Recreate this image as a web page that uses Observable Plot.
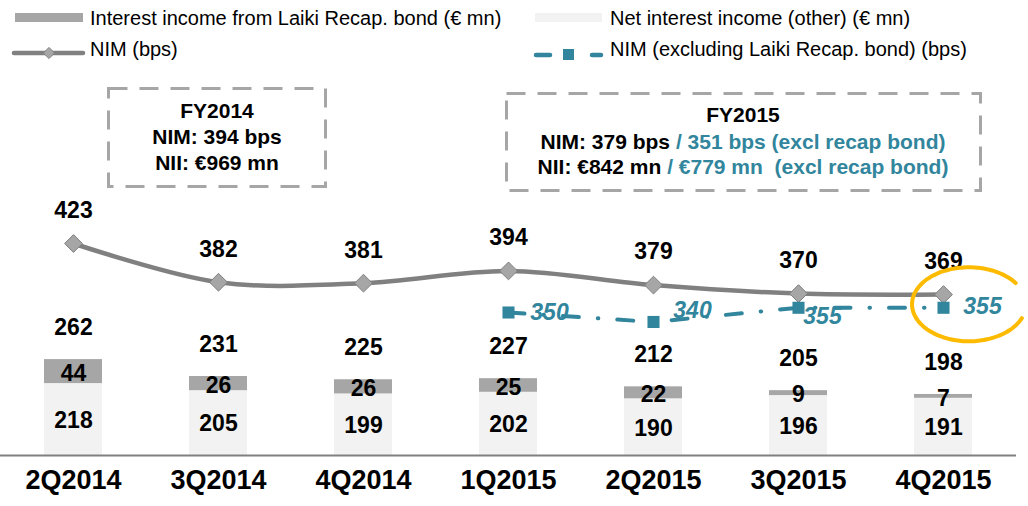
<!DOCTYPE html>
<html>
<head>
<meta charset="utf-8">
<script src="https://cdn.jsdelivr.net/npm/d3@7"></script>
<script src="https://cdn.jsdelivr.net/npm/@observablehq/plot@0.6"></script>
<style>
  body { margin: 0; background: #fff; font-family: "Liberation Sans", Arial, sans-serif; }
  #wrap { position: relative; width: 1028px; height: 506px; overflow: hidden; }
  #wrap > svg { position: absolute; left: 0; top: 0; }
</style>
</head>
<body>
<div id="wrap"></div>
<script>
// ---- data ----
const quarters = ["2Q2014", "3Q2014", "4Q2014", "1Q2015", "2Q2015", "3Q2015", "4Q2015"];
const recapIncome = [44, 26, 26, 25, 22, 9, 7];          // € mn
const otherNII = [218, 205, 199, 202, 190, 196, 191];    // € mn
const totalNII = [262, 231, 225, 227, 212, 205, 198];    // € mn
const nimBps = [423, 382, 381, 394, 379, 370, 369];      // bps
const exclQuarters = ["1Q2015", "2Q2015", "3Q2015", "4Q2015"];
const nimExclBps = [350, 340, 355, 355];                 // bps

const legendLabels = [
  "Interest income from Laiki Recap. bond (€ mn)",
  "Net interest income (other) (€ mn)",
  "NIM (bps)",
  "NIM (excluding Laiki Recap. bond) (bps)"
];
const fy2014Lines = ["FY2014", "NIM: 394 bps", "NII: €969 mn"];
const fy2015Title = "FY2015";
const fy2015Nim = ["NIM: 379 bps ", "/ 351 bps (excl recap bond)"];
const fy2015Nii = ["NII: €842 mn ", "/ €779 mn  (excl recap bond)"];

// ---- styles ----
const FONT = '"Liberation Sans", Arial, sans-serif';
const TEAL = "#31859c";
const DARK_GRAY = "#808080";
const MID_GRAY = "#a6a6a6";
const LIGHT_GRAY = "#f2f2f2";
const barFloor = 86;           // bar value scale starts here (as in the original)
const exclLabelOffsets = {"1Q2015": [41, 0], "2Q2015": [39, -11], "3Q2015": [24, 9], "4Q2015": [39, -1]};

const rows = quarters.map((q, i) => ({q, recap: recapIncome[i], other: otherNII[i], total: totalNII[i], nim: nimBps[i]}));
const exclRows = exclQuarters.map((q, i) => ({q, v: nimExclBps[i]}));

const W = 1028, H = 506;
const common = {
  width: W, height: H, marginTop: 0, marginBottom: 51, marginLeft: 0, marginRight: 12,
  x: {domain: quarters, paddingInner: 0.6, paddingOuter: 0.28, axis: null},
  style: {fontFamily: FONT, background: "transparent", overflow: "visible"}
};
const wrap = document.getElementById("wrap");

// ---- bars ----
const barPlot = Plot.plot({
  ...common,
  y: {domain: [barFloor, 921], axis: null},
  marks: [
    Plot.barY(rows, {x: "q", y1: barFloor, y2: "other", fill: LIGHT_GRAY}),
    Plot.barY(rows, {x: "q", y1: "other", y2: "total", fill: MID_GRAY}),
    Plot.ruleY([barFloor], {stroke: DARK_GRAY, strokeWidth: 2}),
    Plot.text(rows, {x: "q", y: "total", text: d => d.total, dy: -32, fontSize: 23, fontWeight: "bold", fill: "#000"}),
    Plot.text(rows, {x: "q", y: d => (d.other + d.total) / 2, text: d => d.recap, dy: 2, fontSize: 23, fontWeight: "bold", fill: "#000"}),
    Plot.text(rows, {x: "q", y: d => (barFloor + d.other) / 2, text: d => d.other, dy: 1, fontSize: 23, fontWeight: "bold", fill: "#000"}),
    Plot.text(quarters, {x: d => d, text: d => d, frameAnchor: "bottom", dy: 33, fontSize: 27, fontWeight: "bold", fill: "#000"})
  ]
});
wrap.appendChild(barPlot);

// ---- lines ----
const linePlot = Plot.plot({
  ...common,
  y: {domain: [198.7, 680.1], axis: null},
  marks: [
    Plot.line(rows, {x: "q", y: "nim", stroke: DARK_GRAY, strokeWidth: 4.5, curve: "catmull-rom"}),
    Plot.dot(rows, {x: "q", y: "nim", symbol: "diamond2", r: 8, fill: MID_GRAY, stroke: DARK_GRAY, strokeWidth: 1}),
    Plot.text(rows, {x: "q", y: "nim", text: d => d.nim, dy: -33, fontSize: 23, fontWeight: "bold", fill: "#000"}),
    Plot.line(exclRows, {x: "q", y: "v", stroke: TEAL, strokeWidth: 4, strokeDasharray: "16,19,0.5,19", strokeLinecap: "round"}),
    Plot.dot(exclRows, {x: "q", y: "v", symbol: "square", r: 6.8, fill: TEAL}),
    ...exclRows.map(r => Plot.text([r], {x: "q", y: "v", text: d => d.v, dx: exclLabelOffsets[r.q][0], dy: exclLabelOffsets[r.q][1], fontSize: 23, fontStyle: "italic", fontWeight: "bold", fill: TEAL}))
  ]
});
wrap.appendChild(linePlot);

// highlight ellipse around last excl point, placed with the plot's scales
{
  const sx = linePlot.scale("x"), sy = linePlot.scale("y");
  const last = exclRows[exclRows.length - 1];
  const cx = sx.apply(last.q) + sx.bandwidth / 2 + 26;
  const cy = sy.apply(last.v) - 3;
  const rx = 57, ry = 37;
  const a0 = -35 * Math.PI / 180, a1 = 22 * Math.PI / 180;
  const pts = d3.range(0, 1.0001, 1 / 80).map(t => {
    const a = a0 - t * (2 * Math.PI - (a1 - a0));
    return [cx + rx * Math.cos(a), cy + ry * Math.sin(a)];
  });
  d3.select(linePlot).append("path")
    .attr("d", d3.line().curve(d3.curveBasis)(pts))
    .attr("fill", "none").attr("stroke", "#fdbb00").attr("stroke-width", 4).attr("stroke-linecap", "round");
}

// ---- legend + annotation boxes ----
const ann = d3.select(wrap).append("svg").attr("width", W).attr("height", H)
  .style("font-family", FONT);

// legend row 1
ann.append("rect").attr("x", 15).attr("y", 13).attr("width", 68).attr("height", 9).attr("fill", MID_GRAY);
ann.append("text").attr("x", 90).attr("y", 25).attr("font-size", 20).text(legendLabels[0]);
ann.append("rect").attr("x", 535).attr("y", 13).attr("width", 67).attr("height", 9).attr("fill", LIGHT_GRAY);
ann.append("text").attr("x", 610).attr("y", 25).attr("font-size", 20).text(legendLabels[1]);
// legend row 2
ann.append("line").attr("x1", 14).attr("x2", 83).attr("y1", 53).attr("y2", 53).attr("stroke", DARK_GRAY).attr("stroke-width", 4.5).attr("stroke-linecap", "round");
ann.append("path").attr("d", d3.symbol(d3.symbolDiamond2, 80)()).attr("transform", "translate(49,53)").attr("fill", MID_GRAY).attr("stroke", DARK_GRAY).attr("stroke-width", 1);
ann.append("text").attr("x", 90).attr("y", 56).attr("font-size", 20).text(legendLabels[2]);
ann.append("line").attr("x1", 536).attr("x2", 550).attr("y1", 55).attr("y2", 55).attr("stroke", TEAL).attr("stroke-width", 4.5).attr("stroke-linecap", "round");
ann.append("rect").attr("x", 563).attr("y", 49).attr("width", 11).attr("height", 11).attr("fill", TEAL);
ann.append("line").attr("x1", 592).attr("x2", 601).attr("y1", 55).attr("y2", 55).attr("stroke", TEAL).attr("stroke-width", 4.5).attr("stroke-linecap", "round");
ann.append("text").attr("x", 610).attr("y", 56).attr("font-size", 20).text(legendLabels[3]);

// FY2014 box
ann.append("rect").attr("x", 108.5).attr("y", 88.5).attr("width", 217).attr("height", 98)
  .attr("fill", "none").attr("stroke", MID_GRAY).attr("stroke-width", 3).attr("stroke-dasharray", "19,12");
[118, 144, 169.5].forEach((y, i) => {
  ann.append("text").attr("x", 217).attr("y", y).attr("text-anchor", "middle")
    .attr("font-size", 21).attr("font-weight", "bold").text(fy2014Lines[i]);
});
// FY2015 box
ann.append("rect").attr("x", 506.5).attr("y", 93.5).attr("width", 474).attr("height", 97)
  .attr("fill", "none").attr("stroke", MID_GRAY).attr("stroke-width", 3).attr("stroke-dasharray", "19,12");
ann.append("text").attr("x", 743).attr("y", 121.5).attr("text-anchor", "middle")
  .attr("font-size", 21).attr("font-weight", "bold").text(fy2015Title);
[[149, fy2015Nim], [173.5, fy2015Nii]].forEach(([y, parts]) => {
  const t = ann.append("text").attr("x", 743).attr("y", y).attr("text-anchor", "middle")
    .attr("font-size", 21).attr("font-weight", "bold").style("white-space", "pre");
  t.append("tspan").attr("fill", "#000").text(parts[0]);
  t.append("tspan").attr("fill", TEAL).text(parts[1]);
});
</script>
</body>
</html>
